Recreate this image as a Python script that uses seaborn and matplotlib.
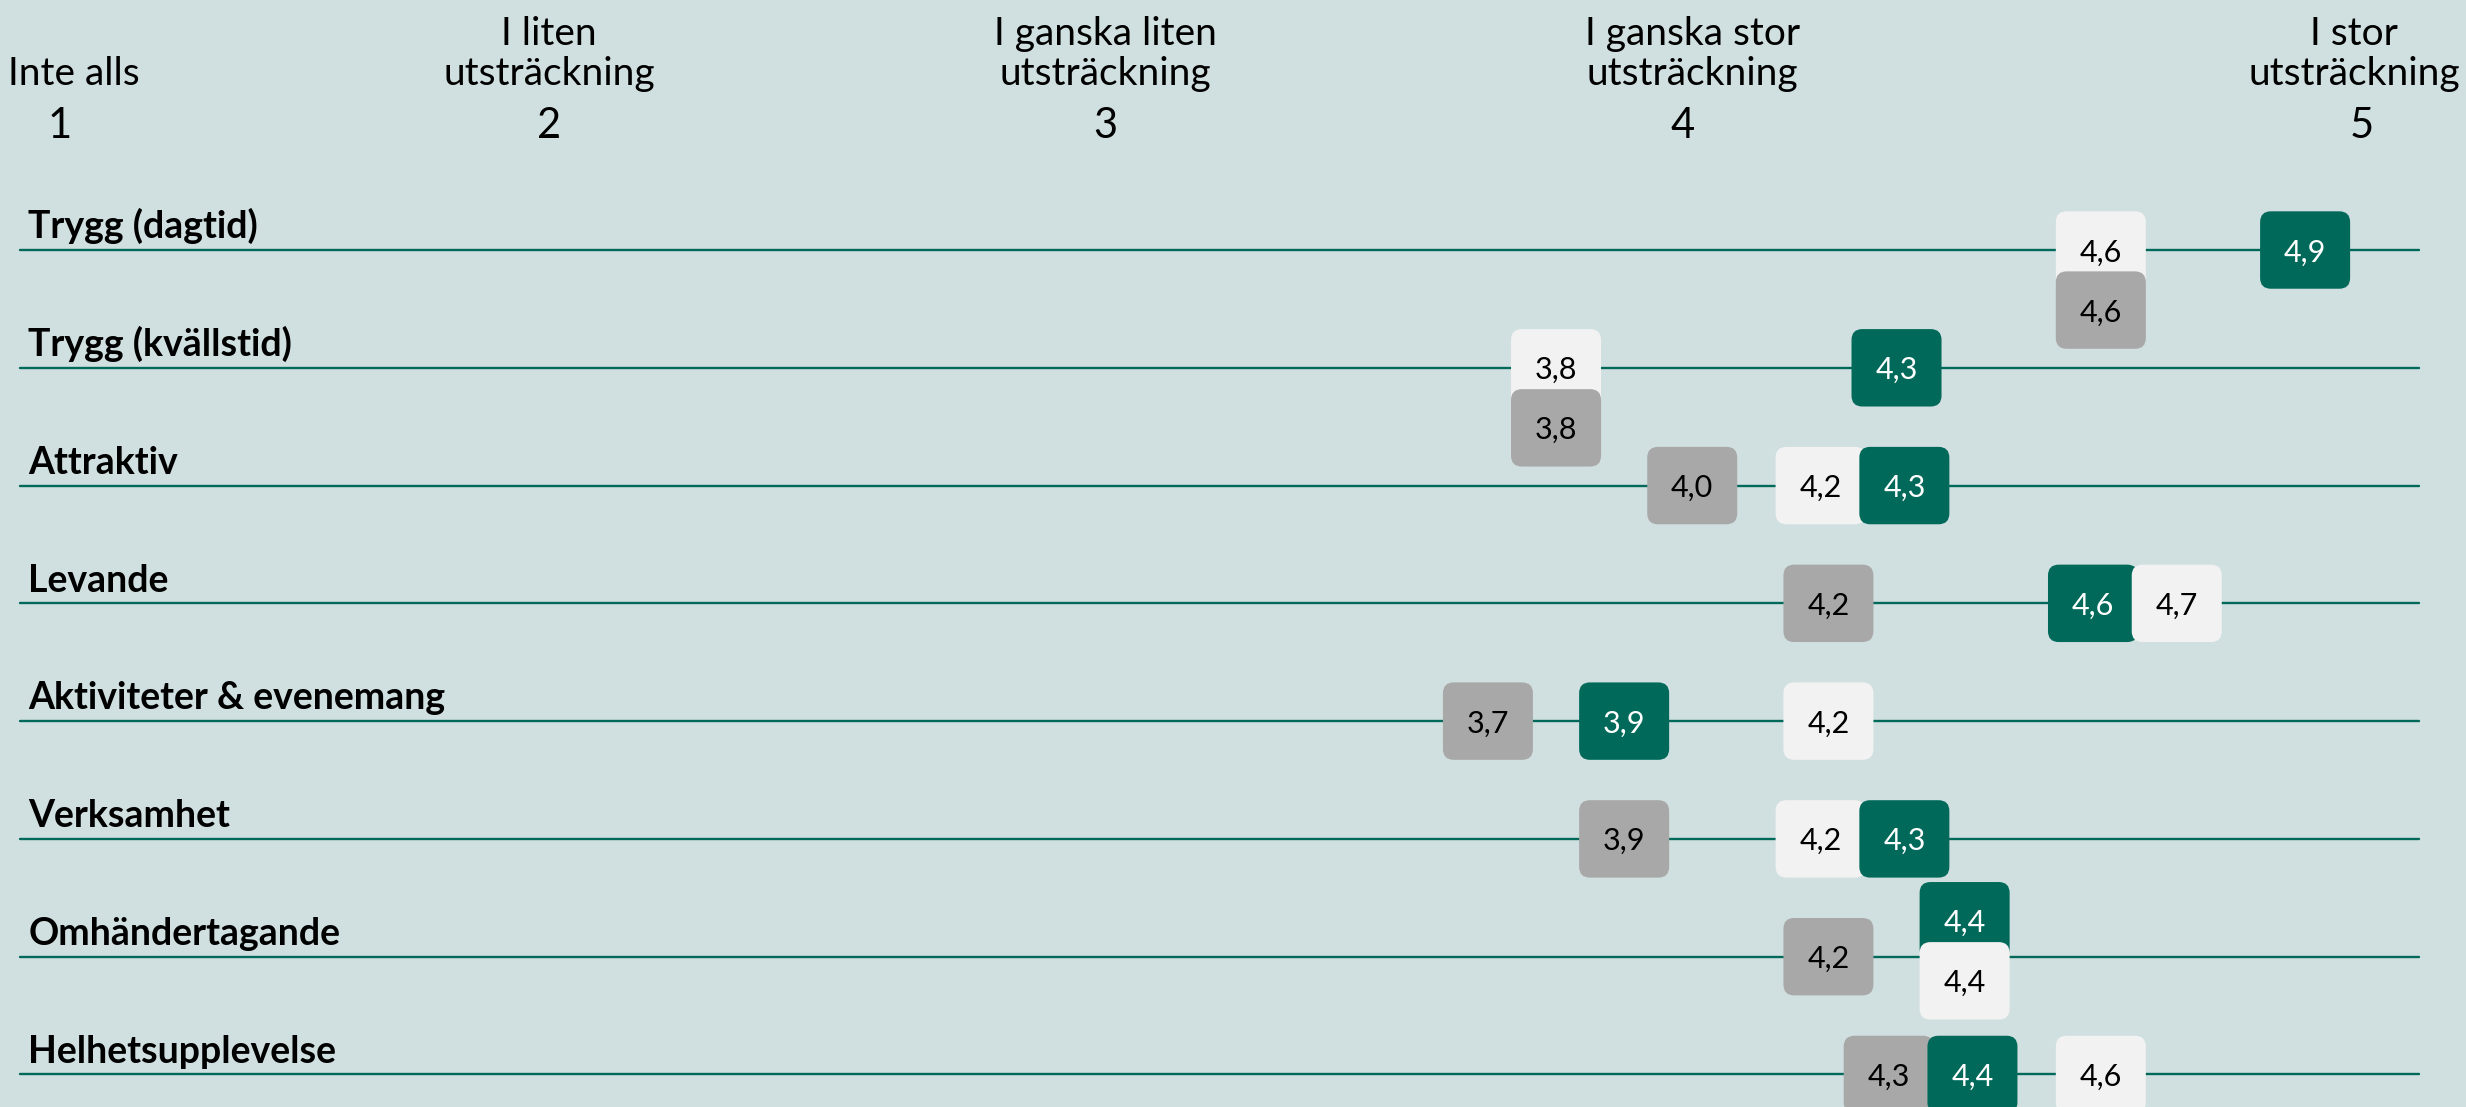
import numpy as np
import pandas as pd
import seaborn as sns
import matplotlib.pyplot as plt
import matplotlib.transforms as mtrans
from matplotlib.patches import FancyBboxPatch

# Data
rows = ["Trygg (dagtid)", "Trygg (kvällstid)", "Attraktiv", "Levande",
        "Aktiviteter & evenemang", "Verksamhet", "Omhändertagande", "Helhetsupplevelse"]
green_vals = [4.9, 4.3, 4.3, 4.6, 3.9, 4.3, 4.4, 4.4]
light_vals = [4.6, 3.8, 4.2, 4.7, 4.2, 4.2, 4.4, 4.6]
gray_vals = [4.6, 3.8, 4.0, 4.2, 3.7, 3.9, 4.2, 4.3]
scale_ticks = ["1", "2", "3", "4", "5"]
scale_labels = ["Inte alls", "I liten\nutsträckning", "I ganska liten\nutsträckning",
                "I ganska stor\nutsträckning", "I stor\nutsträckning"]

BG = "#d0dfdf"
GREEN = "#00695a"
LIGHT = "#f2f2f2"
GRAY = "#a8a8a8"
palette = {"green": GREEN, "light": LIGHT, "gray": GRAY}
txt_color = {"green": "white", "light": "black", "gray": "black"}

sns.set_theme(style="white")
plt.rcParams['font.family'] = ['Lato', 'DejaVu Sans']

all_vals = [green_vals, light_vals, gray_vals]

# spread boxes: same value -> stacked, close values -> pushed apart
MIN_DX = 0.123
TIE_DY = 0.51
recs = []
for i, name in enumerate(rows):
    vals = [("green", green_vals[i]), ("light", light_vals[i]), ("gray", gray_vals[i])]
    groups = {}
    for s, v in vals:
        groups.setdefault(v, []).append(s)
    xs = sorted(groups)
    pos = {v: v for v in xs}
    for a, b in zip(xs[:-1], xs[1:]):
        if pos[b] - pos[a] < MIN_DX:
            mid = (pos[a] + pos[b]) / 2
            pos[a], pos[b] = mid - MIN_DX / 2, mid + MIN_DX / 2
    for v, members in groups.items():
        shift = 0.0
        if len(members) > 1 and i + 1 < len(rows):
            # lift the stack if it would run into a box on the next row
            nxt = [sv[i + 1] for sv in all_vals]
            if any(abs(n - v) < MIN_DX for n in nxt):
                shift = -TIE_DY * (len(members) - 1) / 2 - 0.05
        for k, s in enumerate(members):
            recs.append(dict(row=i, serie=s, value=v, x=pos[v], y=i + shift + k * TIE_DY))

df = pd.DataFrame(recs).sort_values(["row", "y", "x"]).reset_index(drop=True)
df["label"] = df["value"].map(lambda v: f"{v:.1f}".replace(".", ","))

# rounded box marker
box_marker = FancyBboxPatch((-0.5, -0.43), 1.0, 0.86,
                            boxstyle="round,pad=0,rounding_size=0.12").get_path()

fig = plt.figure(figsize=(24.66, 11.07), dpi=100, facecolor=BG)
ax = fig.add_axes([0, 0, 1, 1])
ax.set_facecolor(BG)

for i in range(len(rows)):
    ax.axhline(i, xmin=13 / 1568, xmax=1538 / 1568, color=GREEN, lw=1.7, zorder=1)

sns.scatterplot(data=df, x="x", y="y", hue="serie", palette=palette, marker=box_marker,
                s=4200, linewidth=0, legend=False, ax=ax, zorder=3)

for _, r in df.iterrows():
    ax.text(r["x"], r["y"] + 0.02, r["label"], ha="center", va="center", fontsize=22,
            color=txt_color[r["serie"]], zorder=4)

# x scale: value 4 at px 1076, 433 px per unit (display px of 1568)
ax.set_xlim(4 - 1076 / 433, 4 + (1568 - 1076) / 433)
ax.set_ylim((704 - 159) / 74.9, -159 / 74.9)
ax.axis("off")

# row labels
blend = mtrans.blended_transform_factory(ax.transAxes, ax.transData)
for i, name in enumerate(rows):
    ax.text(18 / 1568, i - 0.1, name, transform=blend, ha="left", va="baseline",
            fontsize=27, fontweight="bold", color="black")

# scale header
head_x = [47, 349, 703, 1076, 1497]
num_x = [38, 349, 703, 1070, 1502]
for lab, hx in zip(scale_labels, head_x):
    ax.text(hx / 1568, 1 - 54 / 704, lab, transform=ax.transAxes, ha="center",
            va="baseline", fontsize=28, linespacing=1.15, color="black")
for t, nx in zip(scale_ticks, num_x):
    ax.text(nx / 1568, 1 - 88 / 704, t, transform=ax.transAxes, ha="center",
            va="baseline", fontsize=30, color="black")

fig.savefig("out.png", dpi=100, facecolor=BG)
